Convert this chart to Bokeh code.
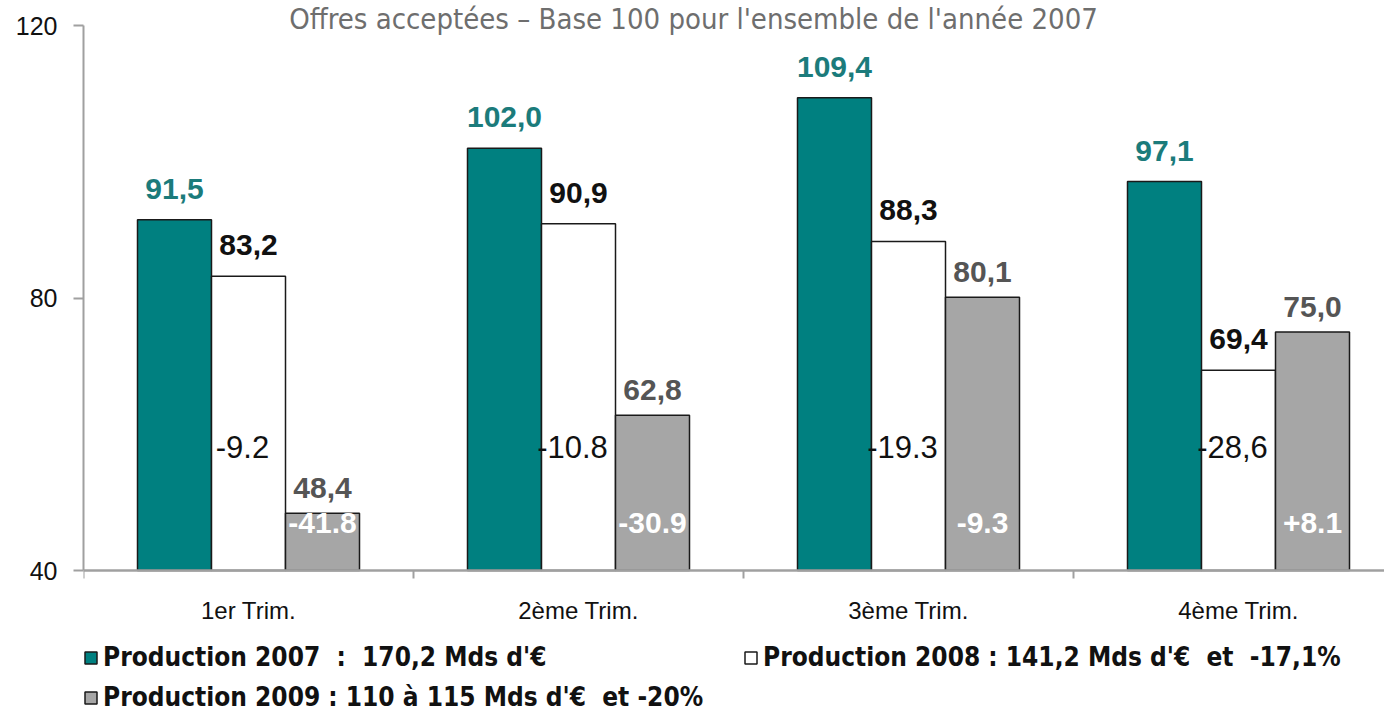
from bokeh.plotting import figure
from bokeh.models import FixedTicker, Legend, LegendItem, Range1d
from bokeh.core.properties import value
from bokeh.embed import file_html
from bokeh.resources import INLINE

categories = ["1er Trim.", "2ème Trim.", "3ème Trim.", "4ème Trim."]
prod_2007 = [91.5, 102.0, 109.4, 97.1]
prod_2008 = [83.2, 90.9, 88.3, 69.4]
prod_2009 = [48.4, 62.8, 80.1, 75.0]
labels_2007 = ["91,5", "102,0", "109,4", "97,1"]
labels_2008 = ["83,2", "90,9", "88,3", "69,4"]
labels_2009 = ["48,4", "62,8", "80,1", "75,0"]
var_2008 = ["-9.2", "-10.8", "-19.3", "-28,6"]
var_2009 = ["-41.8", "-30.9", "-9.3", "+8.1"]
series_names = [
    "Production 2007  :  170,2 Mds d'\u20ac",
    "Production 2008 : 141,2 Mds d'\u20ac  et  -17,1%",
    "Production 2009 : 110 \u00e0 115 Mds d'\u20ac  et -20%",
]
title_text = "Offres accept\u00e9es \u2013 Base 100 pour l'ensemble de l'ann\u00e9e 2007"
y_ticks = [40, 80, 120]
y_min, y_max = 40, 120
var_2008_level = 58.2
var_2009_level = 47.0

TEAL = "#008080"
GREY = "#a6a6a6"
AXIS = "#a0a0a0"
FONT = "Liberation Sans"
COND = "DejaVu Sans Condensed"

W, H = 1384, 712
left = 83
top_px, bottom_px = 25, 570          # pixel rows of 120 and 40
cat_px = 330
ppu = (bottom_px - top_px) / (y_max - y_min)   # pixels per unit
frame_w = W - left
bar_w = 74 / cat_px

y_lo = y_min - (H - bottom_px) / ppu
y_hi = y_max + top_px / ppu

p = figure(width=W, height=H, output_backend="svg", toolbar_location=None,
           x_range=Range1d(0, frame_w / cat_px), y_range=Range1d(y_lo, y_hi),
           min_border_left=left, min_border_right=0, min_border_top=0, min_border_bottom=0)
p.grid.visible = False
p.outline_line_color = None
p.xaxis.visible = False

centers = [i + 0.5 for i in range(len(categories))]
bounds_x = list(range(len(categories)))
x07 = [c - bar_w for c in centers]
x08 = centers
x09 = [c + bar_w for c in centers]

r07 = p.vbar(x=x07, top=prod_2007, bottom=y_min, width=bar_w, fill_color=TEAL,
             line_color="#1a1a1a", line_width=1.5)
r08 = p.vbar(x=x08, top=prod_2008, bottom=y_min, width=bar_w, fill_color="white",
             line_color="#1a1a1a", line_width=1.5)
r09 = p.vbar(x=x09, top=prod_2009, bottom=y_min, width=bar_w, fill_color=GREY,
             line_color="#1a1a1a", line_width=1.5)

# category axis (baseline, separators, labels)
p.segment(x0=[0], y0=[y_min], x1=[frame_w / cat_px], y1=[y_min], line_color=AXIS, line_width=2.5)
p.segment(x0=bounds_x, y0=[y_min] * 4, x1=bounds_x, y1=[y_min - 8 / ppu] * 4,
          line_color=AXIS, line_width=2)
p.text(x=centers, y=[y_min] * 4, text=categories, text_align="center", text_baseline="middle",
       y_offset=40, text_font=value(FONT), text_font_size=value("24px"), text_color="#111111")

# value labels
p.text(x=x07, y=prod_2007, text=labels_2007, text_align="center", text_baseline="middle",
       y_offset=-31, text_font=value(FONT), text_font_style="bold",
       text_font_size=value("30px"), text_color="#1b7b7b")
p.text(x=x08, y=prod_2008, text=labels_2008, text_align="center", text_baseline="middle",
       y_offset=-31, text_font=value(FONT), text_font_style="bold",
       text_font_size=value("30px"), text_color="#111111")
p.text(x=x09, y=prod_2009, text=labels_2009, text_align="center", text_baseline="middle",
       y_offset=-25, text_font=value(FONT), text_font_style="bold",
       text_font_size=value("30px"), text_color="#555555")

# variation labels
p.text(x=x08, y=[var_2008_level] * len(var_2008), text=var_2008, text_align="center",
       text_baseline="middle", x_offset=-6, text_font=value(FONT),
       text_font_size=value("31px"), text_color="#111111")
p.text(x=x09, y=[var_2009_level] * len(var_2009), text=var_2009, text_align="center",
       text_baseline="middle", text_font=value(FONT), text_font_style="bold",
       text_font_size=value("30px"), text_color="white")

# title
p.text(x=[(693 - left) / cat_px], y=[y_hi - 18 / ppu], text=[title_text], text_align="center",
       text_baseline="alphabetic", text_font=value(COND), text_font_size=value("29px"),
       text_color="#6e6e6e")

# y axis
ya = p.yaxis[0]
ya.ticker = FixedTicker(ticks=y_ticks)
ya.bounds = (y_min, y_max)
ya.axis_line_color = AXIS
ya.axis_line_width = 2
ya.major_tick_line_color = AXIS
ya.major_tick_line_width = 2
ya.major_tick_out = 10
ya.major_tick_in = 0
ya.minor_tick_line_color = None
ya.major_label_standoff = 16
ya.major_label_text_font = FONT
ya.major_label_text_font_size = "25px"
ya.major_label_text_color = "#111111"

# legends
common = dict(orientation="horizontal", padding=0, margin=0, spacing=20,
              glyph_width=15, glyph_height=15, label_standoff=5, label_height=30,
              label_text_font=COND, label_text_font_style="bold",
              label_text_font_size="26px", label_text_color="#111111",
              border_line_color=None, background_fill_alpha=0)
leg1 = Legend(items=[LegendItem(label=series_names[0], renderers=[r07]),
                     LegendItem(label=series_names[1], renderers=[r08])],
              location=(0, H - 657 - 15), label_width=620, **common)
leg2 = Legend(items=[LegendItem(label=series_names[2], renderers=[r09])],
              location=(0, 0), **common)
p.add_layout(leg1, "center")
p.add_layout(leg2, "center")

open("out.html", "w").write(file_html(p, INLINE))
